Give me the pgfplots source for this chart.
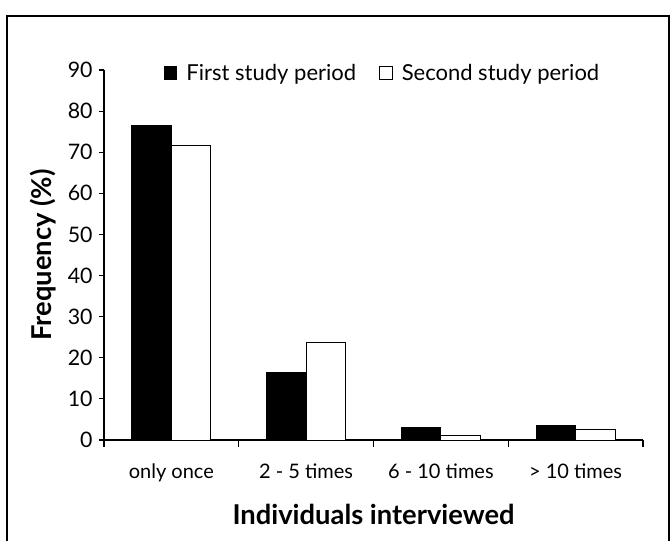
\documentclass[border=0pt]{standalone}
\usepackage{fontspec}
\setmainfont{Lato}
\usepackage{pgfplots}
\pgfplotsset{compat=1.18}
\begin{document}
\begin{tikzpicture}
\useasboundingbox (0pt,0pt) rectangle (502.5pt,-405.75pt);
\draw[line width=0.8pt] (5.25pt,-12pt) rectangle (501.75pt,-420pt);
\begin{axis}[
  at={(78pt,-330pt)}, anchor=south west,
  scale only axis, width=404.25pt, height=277.5pt,
  xmin=-0.5, xmax=3.5, ymin=0, ymax=90,
  axis x line*=bottom, axis y line*=left,
  axis line style={line width=0.9pt, -},
  xtick={0,1,2,3},
  xticklabels={only once, 2 - 5 times, 6 - 10 times, > 10 times},
  minor xtick={-0.5,0.5,1.5,2.5,3.5},
  major x tick style={draw=none},
  minor tick length=5pt,
  ytick={0,10,...,90},
  y tick style={line width=0.8pt, black},
  minor x tick style={line width=0.8pt, black},
  tick align=outside, major tick length=4pt,
  tick label style={font=\fontsize{15}{17}\selectfont, black},
  yticklabel style={font=\fontsize{16}{18}\selectfont},
  /pgf/number format/assume math mode=true,
  xticklabel style={yshift=-10pt},
  yticklabel style={xshift=-1pt},
  xlabel={\textbf{Individuals interviewed}},
  ylabel={\textbf{Frequency (\%)}},
  label style={font=\fontsize{20.5}{24}\selectfont},
  xlabel style={yshift=-10pt},
  ylabel style={yshift=2pt},
  legend style={draw=none, fill=none, at={(0.11,0.992)}, anchor=west,
    legend columns=2, font=\fontsize{16.5}{19}\selectfont, inner sep=0pt,
    /tikz/every odd column/.append style={column sep=5pt},
    /tikz/every even column/.append style={column sep=15pt}},
  legend image code/.code={\draw[line width=0.6pt,#1] (0pt,-4.8pt) rectangle (9.6pt,4.8pt);},
]
\addplot[ybar, bar width=0.293, bar shift=-0.1465, fill=black, draw=black, line width=0.6pt]
  coordinates {(0,76.5) (1,16.5) (2,3.1) (3,3.5)};
\addlegendentry{First study period}
\addplot[ybar, bar width=0.293, bar shift=0.1465, fill=white, draw=black, line width=0.6pt]
  coordinates {(0,71.7) (1,23.7) (2,1.2) (3,2.6)};
\addlegendentry{Second study period}
\end{axis}
\end{tikzpicture}
\end{document}
